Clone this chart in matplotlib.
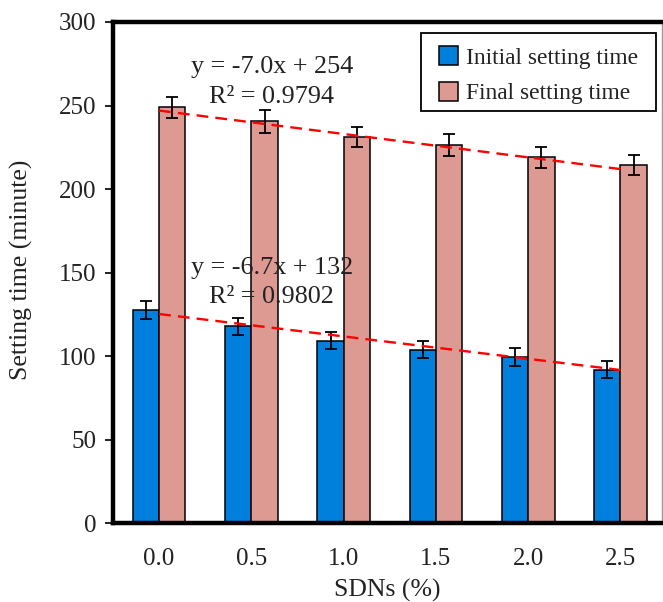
import matplotlib
matplotlib.use("Agg")
import matplotlib.pyplot as plt
from matplotlib.patches import Rectangle
from matplotlib.legend_handler import HandlerPatch
import numpy as np

# SDN dosage levels
categories = ["0.0", "0.5", "1.0", "1.5", "2.0", "2.5"]

# Setting times (minutes) and their standard deviations
initial_time = [127.7, 117.9, 109.3, 104.0, 99.6, 92.0]
initial_err = [5.6, 5.0, 5.0, 4.9, 5.5, 5.0]
final_time = [248.9, 240.5, 231.0, 226.4, 219.0, 214.4]
final_err = [6.2, 7.0, 6.0, 6.6, 6.2, 6.0]

# Linear trendlines (x = 1..6) and their fit quality
initial_fit = (-6.7, 132)
initial_r2 = "0.9802"
final_fit = (-7.0, 254)
final_r2 = "0.9794"

blue = "#0080DC"
pink = "#DD9A92"

plt.rcParams["font.family"] = ["Liberation Serif", "DejaVu Serif"]

fig = plt.figure(figsize=(6.63, 6.02), dpi=100)
ax = fig.add_axes([0.1704, 0.1304, 0.8281, 0.8331])

x = np.arange(len(categories))
w = 0.285
ekw = dict(ecolor="black", elinewidth=1.3, capsize=4.3, capthick=1.3)

ax.bar(x - w / 2, initial_time, w, color=blue, edgecolor="black", linewidth=1.1,
       yerr=initial_err, error_kw=ekw, label="Initial setting time", zorder=2)
ax.bar(x + w / 2, final_time, w, color=pink, edgecolor="black", linewidth=1.1,
       yerr=final_err, error_kw=ekw, label="Final setting time", zorder=2)

# Trendlines drawn from the fitted equations
xi = np.array([x[0], x[-1]])
for slope, icpt in (initial_fit, final_fit):
    yi = slope * (xi + 1) + icpt
    ax.plot(xi, yi, color="red", lw=1.7, linestyle=(0, (5, 3)), zorder=3)

eq_kw = dict(ha="center", va="center", fontsize=18.8, color="#222222", zorder=4)
ax.text(1.22, 273.2, f"y = {final_fit[0]:.1f}x + {final_fit[1]}", **eq_kw)
ax.text(1.22, 255.3, f"R² = {final_r2}", **eq_kw)
ax.text(1.22, 152.6, f"y = {initial_fit[0]:.1f}x + {initial_fit[1]}", **eq_kw)
ax.text(1.22, 135.6, f"R² = {initial_r2}", **eq_kw)

ax.set_xlim(-0.5, 5.45)
ax.set_ylim(0, 300)
ax.set_yticks(np.arange(0, 301, 50))
ax.set_xticks(x)
ax.set_xticklabels(categories)
ax.tick_params(axis="y", direction="out", length=6, width=1.4, labelsize=18,
               pad=6, colors="#222222")
ax.tick_params(axis="x", length=0, labelsize=18, pad=18, colors="#222222")

for side in ("left", "top", "bottom"):
    ax.spines[side].set_linewidth(3.2)
    ax.spines[side].set_color("black")
ax.spines["right"].set_linewidth(1.0)
ax.spines["right"].set_color("#9a9a9a")

ax.set_xlabel("SDNs (%)", fontsize=18.5, va="center", color="#222222")
ax.xaxis.set_label_coords(0.5, -0.133)
ax.set_ylabel("Setting time (minute)", fontsize=18.5, va="center", ha="center",
              color="#222222")
ax.yaxis.set_label_coords(-0.166, 0.505)


# Square legend swatch
def square_swatch(legend, orig_handle, xdescent, ydescent, width, height, fontsize):
    return Rectangle((-xdescent, -ydescent), height, height)


# Legend entries without their own frame; the box is drawn separately
leg = ax.legend(loc="upper left", bbox_to_anchor=(0.5938, 0.952), borderaxespad=0,
                fontsize=16.9, frameon=False,
                handlelength=0.81, handleheight=0.87, handletextpad=0.34,
                labelspacing=0.55, borderpad=0,
                handler_map={Rectangle: HandlerPatch(patch_func=square_swatch)})
for t in leg.get_texts():
    t.set_color("#222222")
leg.set_zorder(6)

ax.add_patch(Rectangle((0.561, 0.823), 0.428, 0.1555, transform=ax.transAxes,
                       facecolor="white", edgecolor="black", linewidth=1.3,
                       zorder=5))

fig.savefig("out.png", dpi=100)
